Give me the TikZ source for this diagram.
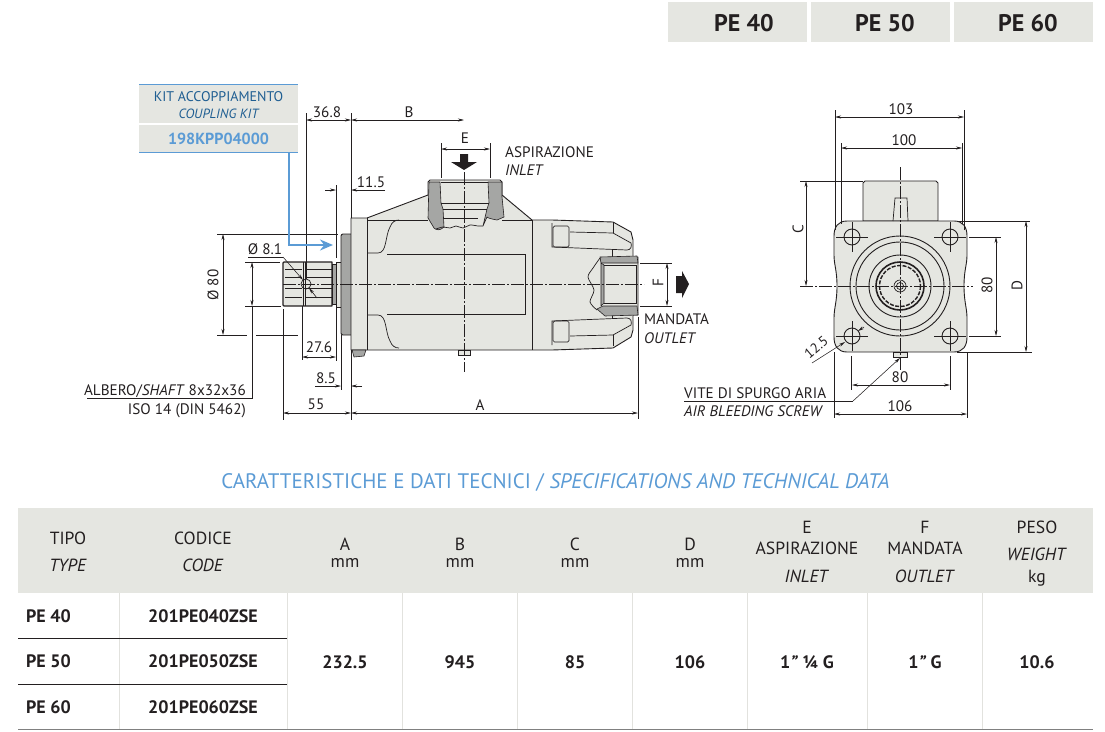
\documentclass[tikz,border=0pt]{standalone}
\usepackage{fontspec}
\setmainfont{PT Sans}
\usetikzlibrary{arrows.meta}

\definecolor{inkblack}{HTML}{231F20}
\definecolor{partgray}{HTML}{E5E6E1}
\definecolor{cutgray}{HTML}{A5A6A4}
\definecolor{kitblue}{HTML}{5B9BD5}
\definecolor{kitdark}{HTML}{1F5E92}
\definecolor{colsep}{HTML}{E2E2DE}

\tikzset{
  lbl/.style={inner sep=0pt, text=inkblack, font=\fontsize{15.2}{17}\selectfont, text height=10.5pt, text depth=0pt},
  kit/.style={lbl, text=kitdark, font=\fontsize{14}{16}\selectfont},
  hdr/.style={lbl, font=\fontsize{17.6}{19}\selectfont, text height=12.5pt},
  cell/.style={hdr, font=\fontsize{18}{20}\selectfont\bfseries},
  part/.style={draw=inkblack, line width=0.9pt, line join=round},
  fine/.style={draw=inkblack, line width=0.7pt},
  cut/.style={fill=cutgray, draw=inkblack, line width=0.6pt, line join=round},
  dim/.style={draw=inkblack, line width=0.55pt, {Stealth[length=6pt,width=3pt]}-{Stealth[length=6pt,width=3pt]}},
  tip/.style={draw=inkblack, line width=0.55pt, -{Stealth[length=6pt,width=3pt]}},
  ext/.style={draw=inkblack, line width=0.6pt},
  axis/.style={draw=inkblack, line width=0.55pt, dash pattern=on 13pt off 2pt on 2pt off 2pt},
  flow/.style={fill=inkblack, draw=none},
}

% one finger of the rear cover, drawn twice
\newcommand{\rearfinger}{
  \draw[fine] (552,223) -- (552,247) -- (627,250)
    .. controls (631,250) and (632,246) .. (631,243) -- (613,233) -- (570,232);
  \draw[fine] (613,222) -- (613,233);
  \draw[fine, rounded corners=1.5pt] (553,226) rectangle (569,247);
  \draw[fine] (612,250) -- (612,257);
}
% outline of the cavity corner in the body
\newcommand{\bodycurve}{
  \draw[fine] (367,253) -- (378,253) .. controls (387,253) and (385,236) .. (390,227)
    .. controls (392,222) and (395,220) .. (399,220);
  \draw[fine] (387,254) -- (525,254) -- (525,284);
}

\begin{document}
\begin{tikzpicture}[x=1pt,y=-1pt]
  \useasboundingbox (0,0) rectangle (1105,731);

  % Version tabs
  \foreach \x/\w/\c/\n/\t in {668/139/744/tabA/PE 40, 811/139/885/tabB/PE 50, 954/139/1028/tabC/PE 60} {
    \fill[partgray] (\x,2) rectangle (\x+\w,42);
    \node[lbl, font=\fontsize{24}{26}\selectfont\bfseries, text height=16.5pt] (\n) at (\c,23) {\t};
  }

  % Coupling kit box
  \fill[partgray] (139,84) rectangle (298,152);
  \draw[white, line width=1.5pt] (139,124) -- (298,124);
  \draw[kitblue, line width=0.9pt] (139,84) -- (298,84) (139,152.5) -- (298,152.5);
  \node[kit] (kitA) at (218.5,96) {KIT ACCOPPIAMENTO};
  \node[kit] (kitB) at (218.5,113) {\itshape\fontsize{13.4}{15}\selectfont COUPLING KIT};
  \node[kit, text=kitblue, font=\fontsize{16}{18}\selectfont\bfseries, text height=11.5pt] (kitC) at (218.5,139) {198KPP04000};

  % Shaft end and pilot
  \draw[part, fill=partgray, line width=1.3pt] (283,263) -- (284,262) -- (332,262) -- (332,306) -- (284,306) -- (283,305) -- cycle;
  \foreach \y in {269,277,288,297} {
    \draw[fine] (285,\y) -- (302,\y) (305,\y) -- (332,\y);
  }
  \draw[fine] (303,262) -- (303,306) (305,262) -- (305,306);
  \draw[part, fill=cutgray] (332,264) rectangle (336,304);
  \draw[part, fill=partgray] (336,262) rectangle (341,307);
  \draw[part, fill=cutgray, rounded corners=2pt] (351,234) -- (341,234) -- (341,335) -- (351,335);

  % Pump body
  \draw[part, fill=partgray] (351,218) -- (367,218) -- (428,195) -- (428,182) -- (430,180)
    -- (500,180) -- (502,182) -- (502,195) -- (532,220) -- (552,220) -- (613,222)
    -- (631,232) -- (633,240) -- (633,257) -- (638,257) -- (638,315) -- (633,315)
    -- (633,330) -- (631,337) -- (613,348) -- (552,350) -- (351,350) -- cycle;
  \draw[part] (367,218) -- (367,350);
  \draw[part] (532,220) -- (532,350);
  \draw[part] (367,220) -- (428,220) (502,220) -- (532,220);
  \bodycurve
  \begin{scope}[shift={(0,568)}, yscale=-1]
    \bodycurve
  \end{scope}
  \rearfinger
  \begin{scope}[shift={(0,568)}, yscale=-1]
    \rearfinger
  \end{scope}

  % Inlet port section
  \draw[cut] (429,182) -- (440,182) -- (441,203) -- (443,209) -- (444,227)
    .. controls (440,231) and (436,230) .. (434,228) -- (428,218) -- cycle;
  \draw[cut] (488,182) -- (502,182) -- (502,197) -- (504,217) -- (497,220)
    .. controls (491,219) and (488,218) .. (487,217) -- (483,226) -- (487,209) -- (489,203) -- cycle;
  \draw[fine] (441,203) -- (489,203) (443,209) -- (487,209) (444,218) -- (478,218);
  \draw[fine] (441,182) -- (488,182);
  \draw[fine] plot[smooth] coordinates {(436,229) (443,227) (450,228) (456,226) (463,228) (470,225) (478,226) (483,226)};

  % Outlet port section
  \fill[partgray] (597,258) rectangle (637,314);
  \draw[cut] (600,257) -- (637,256) -- (638,263) -- (601,263) -- cycle;
  \draw[cut] (597,309) -- (603,306) -- (637,306) -- (638,315) -- (605,316) -- cycle;
  \draw[cut] (601,263) -- (604,265) -- (604,303) -- (601,306) -- cycle;
  \draw[fine] (604,265) -- (636,265) -- (636,303) -- (604,303);
  \draw[fine] plot[smooth] coordinates {(600,258) (593,268) (588,277) (594,290) (590,302) (597,310)};

  % Small parts under the body
  \draw[cut] (352,350) -- (366,350) -- (364,356) -- (354,357) -- cycle;
  \draw[fine, fill=partgray] (458,350) rectangle (470,355);

  % Centre lines of side view
  \draw[axis] (283,284) -- (644,284);
  \draw[axis] (464,172) -- (464,372);
  \draw[fine] (306,284) circle (5);

  % Arrows of flow
  \fill[flow] (460,154) -- (468,154) -- (468,162) -- (477,162) -- (464,170) -- (451,162) -- (460,162) -- cycle;
  \fill[flow] (676,276) -- (682,276) -- (682,271) -- (689,284) -- (682,298) -- (682,293) -- (676,293) -- cycle;

  % Dimensions of side view, top
  \draw[ext] (306,113) -- (306,279);
  \draw[ext] (351,113) -- (351,218) (351,350) -- (351,420);
  \draw[dim] (306,120) -- (351,120);
  \node[lbl] (dimA) at (327,112) {36.8};
  \draw[dim] (351,120) -- (464,120);
  \node[lbl] (dimB) at (409,112) {B};
  \draw[ext] (441,143) -- (441,178) (490,143) -- (490,178);
  \draw[dim] (441,149) -- (490,149);
  \node[lbl] (dimE) at (465,138) {E};
  \draw[ext] (336,185) -- (336,258);
  \draw[tip] (325,190) -- (336,190);
  \draw[tip] (385,190) -- (351,190);
  \node[lbl] (dimG) at (371,182) {11.5};

  % Dimensions of side view, left
  \draw[ext] (217,234) -- (338,234);
  \draw[ext] (217,335) -- (247,335) (256,335) -- (298,335);
  \draw[dim] (223,234) -- (223,335);
  \node[lbl, rotate=90] (dimH) at (213,285) {Ø 80};
  \draw[ext] (245,262) -- (280,262) (245,306) -- (281,306);
  \draw[dim] (252,262) -- (252,306);
  \draw[ext] (252,306) -- (252,398) -- (87,398);
  \node[lbl, anchor=east] (shaftA) at (246,390) {ALBERO/\textit{SHAFT} 8x32x36};
  \node[lbl, anchor=east] (shaftB) at (246,409) {ISO 14 (DIN 5462)};
  \node[lbl] (dimJ) at (265,249) {Ø 8.1};
  \draw[ext] (248,257) -- (283,257);
  \draw[tip] (283,257) -- (303,280);
  \draw[tip] (317,298) -- (309,288);

  % Dimensions of side view, bottom
  \draw[ext] (302,306) -- (302,360) (336,304) -- (336,361);
  \draw[dim] (302,357) -- (336,357);
  \node[lbl] (dimK) at (319,347) {27.6};
  \draw[ext] (341,335) -- (341,390);
  \draw[tip] (315,386) -- (341,386);
  \draw[tip] (362,386) -- (351,386);
  \node[lbl] (dimL) at (326,378) {8.5};
  \draw[ext] (283,309) -- (283,420);
  \draw[dim] (283,413) -- (351,413);
  \node[lbl] (dimM) at (316,404) {55};
  \draw[ext] (638,317) -- (638,419);
  \draw[dim] (351,413) -- (638,413);
  \node[lbl] (dimN) at (480,405) {A};

  % Outlet dimension
  \draw[ext] (640,263) -- (672,263) (640,306) -- (672,306);
  \draw[dim] (667,263) -- (667,306);
  \node[lbl, rotate=90] (dimF) at (658,283) {F};

  % Port labels
  \node[lbl, anchor=west] (inA) at (505,152) {ASPIRAZIONE};
  \node[lbl, anchor=west] (inB) at (505,170) {\itshape INLET};
  \node[lbl, anchor=west] (outA) at (644,319) {MANDATA};
  \node[lbl, anchor=west] (outB) at (644,338) {\itshape OUTLET};

  % Front view
  \draw[part, fill=partgray] (863,221) -- (863,183) -- (865,181) -- (936,181) -- (938,183) -- (938,221) -- cycle;
  \draw[part, fill=partgray] (847,221) -- (954,221)
    .. controls (963,221) and (967,227) .. (967,236) -- (967,255)
    .. controls (967,265) and (964,270) .. (964,286)
    .. controls (964,302) and (967,308) .. (967,318) -- (967,337)
    .. controls (967,346) and (963,352) .. (954,352) -- (847,352)
    .. controls (838,352) and (834,346) .. (834,337) -- (834,318)
    .. controls (834,308) and (837,302) .. (837,286)
    .. controls (837,270) and (834,265) .. (834,255) -- (834,236)
    .. controls (834,227) and (838,221) .. (847,221) -- cycle;
  \draw[fine] (893,221) -- (895,198) -- (907,198) -- (908,221);
  \draw[fine, fill=partgray] (893,352) rectangle (907,357);
  \foreach \x/\y in {852/237, 950/237, 852/336, 950/336} {
    \draw[part] (\x,\y) circle (8);
    \draw[ext] (\x-16,\y) -- (\x+16,\y);
    \draw[ext] (\x,\y-15) -- (\x,\y+15);
  }
  \foreach \r in {50,44,31} {
    \draw[part] (900,286) circle (\r);
  }
  \draw[draw=inkblack, line width=1.6pt] (900,286) circle (24);
  \draw[draw=inkblack, line width=1.4pt, dash pattern=on 4pt off 1.5pt] (900,286) circle (20.5);
  \draw[fine] (900,286) circle (6) (900,286) circle (3.5);

  % Centre lines of front view
  \draw[axis] (900,167) -- (900,370);
  \draw[axis] (800,286) -- (973,286);

  % Dimensions of front view
  \draw[ext] (835,110) -- (835,230) (964,110) -- (964,230);
  \draw[dim] (835,117) -- (964,117);
  \node[lbl] (dimP) at (901,109) {103};
  \draw[ext] (841,143) -- (841,224) (962,143) -- (962,224);
  \draw[dim] (841,148) -- (962,148);
  \node[lbl] (dimQ) at (904,140) {100};
  \draw[ext] (800,181) -- (863,181);
  \draw[dim] (806,181) -- (806,286);
  \node[lbl, rotate=90] (dimC) at (798,229) {C};
  \draw[ext] (958,221) -- (1030,221) (957,352) -- (1032,352);
  \draw[dim] (1026,221) -- (1026,352);
  \node[lbl, rotate=90] (dimD) at (1017,286) {D};
  \draw[ext] (969,237) -- (1001,237) (969,336) -- (1001,336);
  \draw[dim] (996,237) -- (996,336);
  \node[lbl, rotate=90] (dimR) at (987,285) {80};
  \draw[ext] (851,356) -- (851,390) (950,356) -- (950,390);
  \draw[dim] (852,385) -- (950,385);
  \node[lbl] (dimS) at (900,377) {80};
  \draw[ext] (834,352) -- (834,418) (967,352) -- (967,418);
  \draw[dim] (834,414) -- (967,414);
  \node[lbl] (dimT) at (900,406) {106};
  \draw[tip] (812,363) -- (845,342);
  \draw[tip] (864,327) -- (858,331);
  \node[lbl, rotate=40, font=\fontsize{14}{16}\selectfont] (dimU) at (816,347) {12.5};

  % Air bleed leader
  \node[lbl, anchor=west] (ventA) at (684,393) {VITE DI SPURGO ARIA};
  \node[lbl, anchor=west] (ventB) at (684,411) {\itshape AIR BLEEDING SCREW};
  \draw[ext] (684,401) -- (853,401);
  \draw[tip] (853,401) -- (900,358);

  % Coupling kit arrow
  \coordinate (kitEnd) at (333,245);
  \draw[kitblue, line width=1.9pt, -{Stealth[length=13pt,width=11pt]}] (289,153) -- (289,245) -- (kitEnd);

  % Title
  \node[lbl, text=kitblue, font=\fontsize{21}{23}\selectfont, text height=14.5pt] (title) at (555.5,481)
    {CARATTERISTICHE E DATI TECNICI / \textit{SPECIFICATIONS AND TECHNICAL DATA}};

  % Table
  \fill[partgray] (18,508) rectangle (1093,593);
  \foreach \x in {119.5,287,402.5,517.5,632.5,747.5,867,982} {
    \draw[colsep, line width=1pt] (\x,593) -- (\x,729);
  }
  \draw[inkblack, line width=0.8pt] (18,638.5) -- (287,638.5) (18,684) -- (287,684);
  \draw[gray, line width=1.6pt] (18,729.5) -- (1093,729.5);
  \foreach \x/\y/\n/\t in {68/538/hA/TIPO, 68/565/hB/\textit{TYPE}, 203/538/hC/CODICE, 203/565/hD/\textit{CODE},
      345/544/hE/A, 345/561/hF/mm, 460/544/hG/B, 460/561/hH/mm, 575/544/hI/C, 575/561/hJ/mm,
      690/544/hK/D, 690/561/hL/mm, 807/527/hM/E, 807/548/hN/ASPIRAZIONE, 807/576/hO/\textit{INLET},
      925/527/hP/F, 925/548/hQ/MANDATA, 925/576/hR/\textit{OUTLET},
      1037/527/hS/PESO, 1037/554/hT/\textit{WEIGHT}, 1037/576/hU/kg} {
    \node[hdr] (\n) at (\x,\y) {\t};
  }
  \foreach \y/\n/\t/\c in {616/rA/PE 40/201PE040ZSE, 661/rB/PE 50/201PE050ZSE, 707/rC/PE 60/201PE060ZSE} {
    \node[cell, anchor=west] (\n) at (26,\y) {\t};
    \node[cell] (\n c) at (203,\y) {\c};
  }
  \foreach \x/\n/\t in {345/vA/232.5, 460/vB/945, 575/vC/85, 690/vD/106, 807/vE/{1\textit{"} ¼ G}, 925/vF/{1\textit{"} G}, 1037/vG/10.6} {
    \node[cell] (\n) at (\x,662) {\t};
  }
\end{tikzpicture}
\end{document}
